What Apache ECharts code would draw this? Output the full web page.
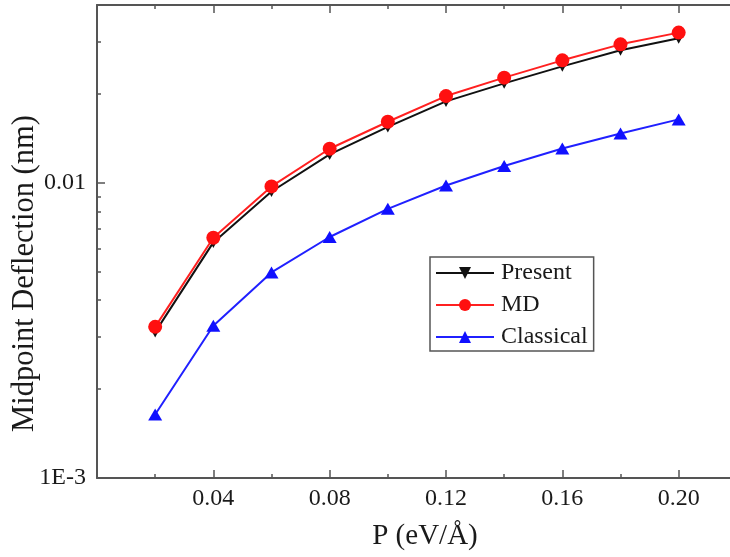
<!DOCTYPE html>
<html><head><meta charset="utf-8">
<script src="https://cdn.jsdelivr.net/npm/echarts@6/dist/echarts.min.js"></script>
<style>html,body{margin:0;padding:0;background:#fff}#c{width:730px;height:557px}</style>
</head><body><div id="c"></div>
<script>
const loads = [0.02, 0.04, 0.06, 0.08, 0.10, 0.12, 0.14, 0.16, 0.18, 0.20];
const present = [0.00312, 0.00628, 0.00934, 0.01247, 0.01546, 0.01886, 0.02171, 0.02479, 0.02809, 0.03085];
const md = [0.00325, 0.00651, 0.00972, 0.01304, 0.01609, 0.01966, 0.02270, 0.02598, 0.02943, 0.03225];
const classical = [0.00164, 0.00328, 0.00497, 0.00655, 0.00816, 0.00979, 0.01139, 0.01307, 0.01469, 0.01639];
const yMajorTicks = [0.001, 0.01];
const yMajorLabels = ['1E-3', '0.01'];
const yMinorTicks = [0.002, 0.003, 0.004, 0.005, 0.006, 0.007, 0.008, 0.009, 0.02, 0.03];

const FONT = '"Liberation Serif", "Times New Roman", serif';
const AX = '#555';
const TXT = '#1a1a1a';
const chart = echarts.init(document.getElementById('c'), null, {renderer: 'canvas'});

function pairs(arr) { return loads.map((x, i) => [x, arr[i]]); }
function yLabel(v) {
  for (let i = 0; i < yMajorTicks.length; i++) {
    if (Math.abs(Math.log10(v) - Math.log10(yMajorTicks[i])) < 1e-6) return yMajorLabels[i];
  }
  return '';
}
const xBase = {
  type: 'value', min: 0, max: 0.24, interval: 0.04,
  axisLine: {show: true, onZero: false, lineStyle: {color: AX, width: 2}},
  axisTick: {show: true, inside: true, length: 8, lineStyle: {color: AX, width: 1.5}},
  minorTick: {show: true, splitNumber: 2, length: 4, lineStyle: {color: AX, width: 1.5}},
  splitLine: {show: false}, minorSplitLine: {show: false}
};

chart.setOption({
  animation: false,
  backgroundColor: '#fff',
  grid: {left: 97, right: -65, top: 5, bottom: 79, containLabel: false, outerBoundsMode: 'none'},
  xAxis: [
    Object.assign({}, xBase, {
      position: 'bottom',
      name: 'P (eV/Å)', nameLocation: 'middle', nameGap: 44, nameMoveOverlap: false,
      nameTextStyle: {fontFamily: FONT, fontSize: 29, color: TXT, padding: [0, 42, 0, 0]},
      axisLabel: {show: true, margin: 9, fontFamily: FONT, fontSize: 24, color: TXT,
        showMinLabel: false, showMaxLabel: false, formatter: v => v.toFixed(2)}
    }),
    Object.assign({}, xBase, {position: 'top', axisLabel: {show: false}})
  ],
  yAxis: [
    {
      type: 'log', logBase: 10, min: 0.001, max: 0.04, position: 'left',
      name: 'Midpoint Deflection (nm)', nameLocation: 'middle', nameGap: 57, nameMoveOverlap: false,
      nameTextStyle: {fontFamily: FONT, fontSize: 30.5, color: TXT, padding: [0, 64, 0, 0]},
      axisLine: {show: true, onZero: false, lineStyle: {color: AX, width: 2}},
      axisTick: {show: true, inside: true, length: 8, lineStyle: {color: AX, width: 1.5}},
      axisLabel: {show: true, margin: 11, fontFamily: FONT, fontSize: 24, color: TXT,
        showMaxLabel: false, formatter: yLabel},
      splitLine: {show: false}
    },
    {
      type: 'value', position: 'left',
      min: Math.log10(0.001), max: Math.log10(0.04),
      axisLine: {show: false},
      axisLabel: {show: false},
      axisTick: {show: true, inside: true, length: 4, lineStyle: {color: AX, width: 1.5},
        customValues: yMinorTicks.map(v => Math.log10(v))},
      splitLine: {show: false}
    }
  ],
  legend: {
    orient: 'vertical', left: 430, top: 257,
    padding: [4, 6, 2, 5], itemGap: 8, itemWidth: 58, itemHeight: 15,
    borderColor: AX, borderWidth: 1.5, backgroundColor: '#fff',
    textStyle: {fontFamily: FONT, fontSize: 24, color: TXT, padding: [0, 0, 0, 2]},
    data: ['Present', 'MD', 'Classical']
  },
  series: [
    {name: 'Present', type: 'line', data: pairs(present),
      symbol: 'triangle', symbolRotate: 180, symbolSize: [12, 11],
      itemStyle: {color: '#111'}, lineStyle: {color: '#111', width: 2}},
    {name: 'MD', type: 'line', data: pairs(md),
      symbol: 'circle', symbolSize: 14,
      itemStyle: {color: '#ff1010'}, lineStyle: {color: '#ff2020', width: 2}},
    {name: 'Classical', type: 'line', data: pairs(classical),
      symbol: 'triangle', symbolSize: [14, 12],
      itemStyle: {color: '#1010ff'}, lineStyle: {color: '#2020ff', width: 2}}
  ]
});
</script>
</body></html>
